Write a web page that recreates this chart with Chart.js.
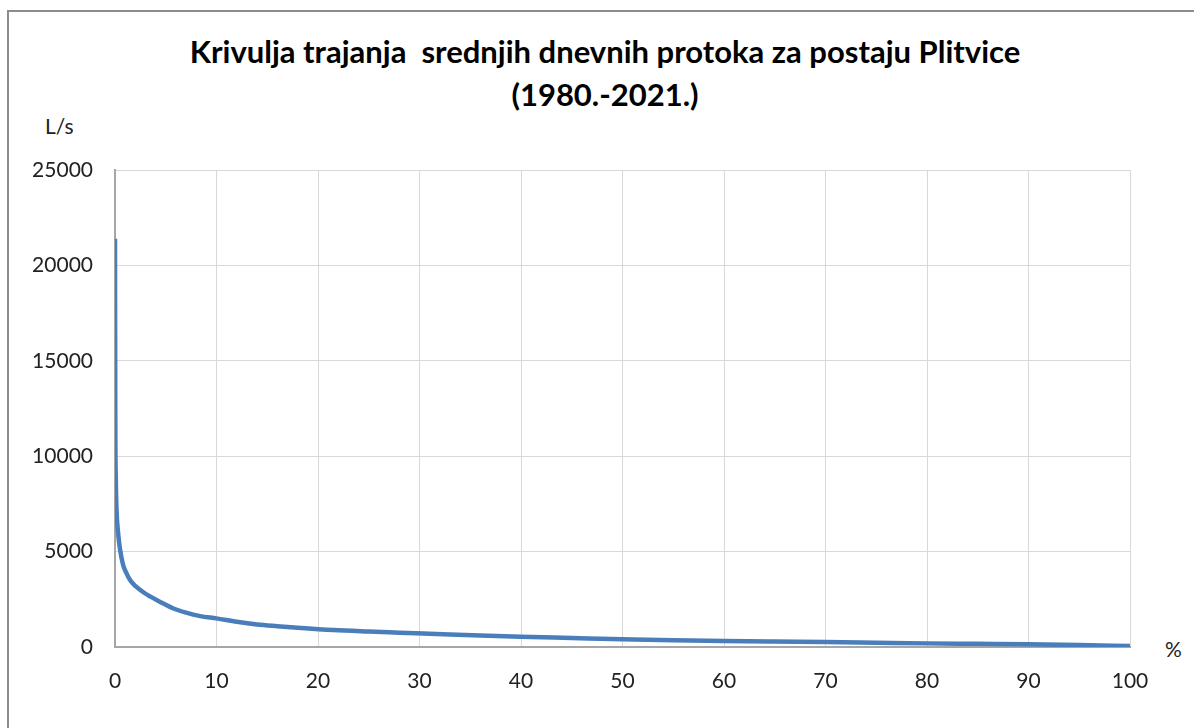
<!DOCTYPE html>
<html>
<head>
<meta charset="utf-8">
<script src="https://cdn.jsdelivr.net/npm/chart.js@4/dist/chart.umd.min.js"></script>
<style>
  body { margin: 0; background: #fff; }
  #wrap { position: relative; width: 1194px; height: 728px; overflow: hidden; font-family: Lato, "Open Sans", sans-serif; }
  #frame { position: absolute; left: 7px; top: 10px; width: 1300px; height: 900px; border-left: 2px solid #8c8c8c; border-top: 2px solid #8c8c8c; }
  #title { position: absolute; left: 0; width: 1210px; top: 30px; text-align: center; font-weight: bold; font-size: 31px; line-height: 43px; color: #000; }
  .unit { position: absolute; font-size: 21px; color: #222; }
  canvas { position: absolute; left: 0; top: 0; }
</style>
</head>
<body>
<div id="wrap">
  <div id="frame"></div>
  <div id="title">Krivulja trajanja&nbsp; srednjih dnevnih protoka za postaju Plitvice<br>(1980.-2021.)</div>
  <div class="unit" style="left:45px; top:113px;">L/s</div>
  <div class="unit" style="left:1165px; top:636px;">%</div>
  <canvas id="myChart" width="1194" height="728"></canvas>
</div>
<script>
// duration (% of time flow is exceeded)
const durationPct = [0, 0.03, 0.08, 0.15, 0.3, 0.5, 0.8, 1.1, 1.5, 2, 2.9, 3.5, 4.5, 5.7, 7, 8.4, 10, 12, 14, 16, 18, 21.5, 25, 28, 33, 36, 40, 45, 50, 55, 60, 65, 70, 75, 80, 85, 90, 95, 100];
// mean daily flow, L/s
const flowLs = [21400, 12000, 8800, 7200, 6000, 5100, 4300, 3900, 3500, 3200, 2830, 2640, 2350, 2030, 1800, 1620, 1500, 1320, 1180, 1090, 1010, 890, 810, 750, 650, 600, 540, 470, 400, 355, 315, 285, 260, 225, 190, 165, 140, 100, 50];

const xTicks = [0, 10, 20, 30, 40, 50, 60, 70, 80, 90, 100];
const yTicks = [0, 5000, 10000, 15000, 20000, 25000];

const points = durationPct.map((x, i) => ({ x: x, y: flowLs[i] }));

const ctx = document.getElementById('myChart').getContext('2d');

new Chart(ctx, {
    type: 'line',
    data: {
        datasets: [
            {
                data: points,
                borderColor: '#4a7ebb',
                borderWidth: 4.5,
                pointRadius: 0,
                cubicInterpolationMode: 'monotone',
                fill: false
            }
        ]
    },
    options: {
        responsive: false,
        animation: false,
        layout: { padding: { left: 0, top: 170, right: 64, bottom: 21 } },
        plugins: { legend: { display: false }, tooltip: { enabled: false } },
        scales: {
            x: {
                type: 'linear',
                min: 0,
                max: 100,
                afterBuildTicks: (s) => { s.ticks = xTicks.map(v => ({ value: v })); },
                afterFit: (s) => { s.height = 60; },
                grid: { color: '#d9d9d9', lineWidth: 1, drawTicks: false },
                border: { color: '#a6a6a6', width: 2 },
                ticks: { padding: 22, color: '#222', font: { family: 'Lato', size: 21 } }
            },
            y: {
                min: 0,
                max: 25000,
                afterBuildTicks: (s) => { s.ticks = yTicks.map(v => ({ value: v })); },
                afterFit: (s) => { s.width = 115; },
                grid: { color: '#d9d9d9', lineWidth: 1, drawTicks: false },
                border: { color: '#a6a6a6', width: 2 },
                ticks: { padding: 22, color: '#222', font: { family: 'Lato', size: 21 }, callback: (v) => String(v) }
            }
        }
    }
});
</script>
</body>
</html>
